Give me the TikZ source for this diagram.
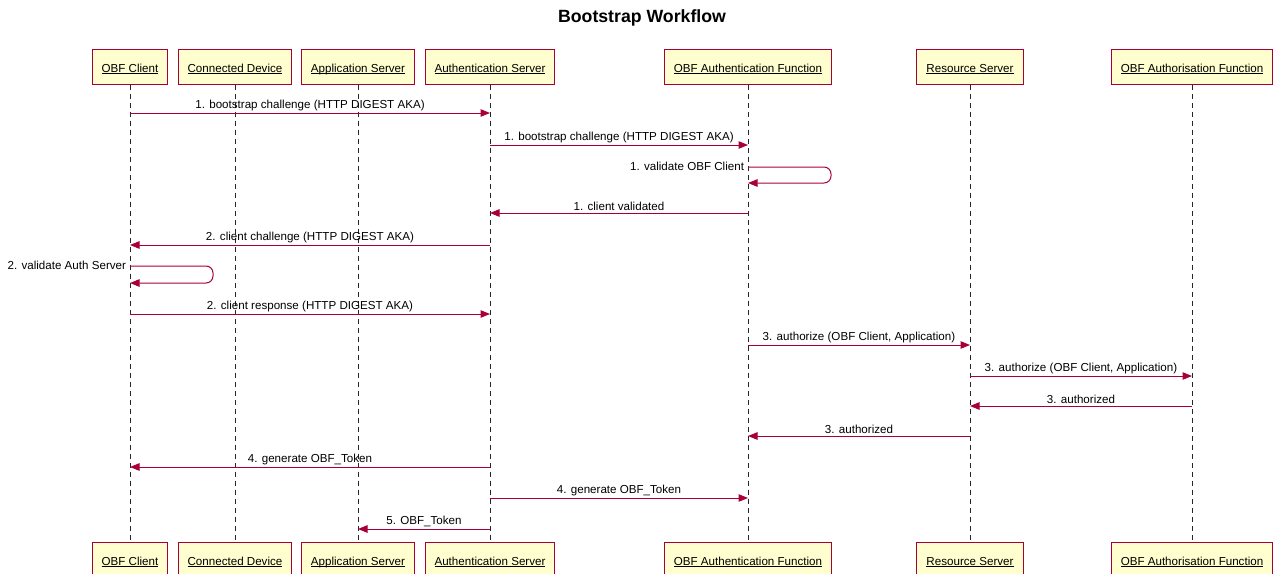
\documentclass[tikz,border=0pt]{standalone}
\usepackage{fontspec}
\setmainfont{Liberation Sans}
\usetikzlibrary{arrows.meta}
\definecolor{umlred}{HTML}{A80036}
\definecolor{umlfill}{HTML}{FEFECE}
\newcommand\ulname[1]{\underline{\smash{#1}}}
\tikzset{
  part/.style={draw=umlred,fill=umlfill,line width=1pt,rectangle,minimum height=35pt,inner xsep=9.5pt,text height=11pt,text depth=0pt,font=\fontsize{11.6}{13}\selectfont},
  life/.style={dash pattern=on 5pt off 4pt,black!85,line width=0.8pt},
  msg/.style={umlred,line width=1pt,-{Triangle[length=9.5pt,width=7.5pt]}},
  lbl/.style={black,font=\fontsize{11.6}{13}\selectfont,inner sep=1.5pt},
}

\begin{document}
\begin{tikzpicture}[x=1pt,y=-1pt]
      \useasboundingbox (0,0) rectangle (1276,573);
      \node[font=\bfseries\fontsize{17.7}{20}\selectfont] (title) at (642,18) {Bootstrap Workflow};

      % participants, top row
      \node[part] (cliT) at (130,66.5) {\ulname{OBF Client}};
      \node[part] (devT) at (235,66.5) {\ulname{Connected Device}};
      \node[part] (appT) at (358,66.5) {\ulname{Application Server}};
      \node[part] (ausT) at (490,66.5) {\ulname{Authentication Server}};
      \node[part] (afnT) at (748,66.5) {\ulname{OBF Authentication Function}};
      \node[part] (resT) at (970,66.5) {\ulname{Resource Server}};
      \node[part] (azfT) at (1192,66.5) {\ulname{OBF Authorisation Function}};

      % participants, bottom row
      \node[part] (cliB) at (130,559.5) {\ulname{OBF Client}};
      \node[part] (devB) at (235,559.5) {\ulname{Connected Device}};
      \node[part] (appB) at (358,559.5) {\ulname{Application Server}};
      \node[part] (ausB) at (490,559.5) {\ulname{Authentication Server}};
      \node[part] (afnB) at (748,559.5) {\ulname{OBF Authentication Function}};
      \node[part] (resB) at (970,559.5) {\ulname{Resource Server}};
      \node[part] (azfB) at (1192,559.5) {\ulname{OBF Authorisation Function}};

      \draw[life] (cliT) -- (cliB);
      \draw[life] (devT) -- (devB);
      \draw[life] (appT) -- (appB);
      \draw[life] (ausT) -- (ausB);
      \draw[life] (afnT) -- (afnB);
      \draw[life] (resT) -- (resB);
      \draw[life] (azfT) -- (azfB);

      % messages
      \draw[msg] (cliT |- 0,113) -- (ausT |- 0,113) node[midway,above,lbl] {1. bootstrap challenge (HTTP DIGEST AKA)};
      \draw[msg] (ausT |- 0,145) -- (afnT |- 0,145) node[midway,above,lbl] {1. bootstrap challenge (HTTP DIGEST AKA)};
      \draw[msg,rounded corners=7pt] (afnT |- 0,167) node[anchor=east,lbl,xshift=-2pt,yshift=1pt] {1. validate OBF Client}
        -- ++(83,0) -- ++(0,16) -- ++(-83,0);
      \draw[msg] (afnT |- 0,213) -- (ausT |- 0,213) node[midway,above,lbl] {1. client validated};
      \draw[msg] (ausT |- 0,245) -- (cliT |- 0,245) node[midway,above,lbl] {2. client challenge (HTTP DIGEST AKA)};
      \draw[msg,rounded corners=7pt] (cliT |- 0,266) node[anchor=east,lbl,xshift=-2pt,yshift=1pt] {2. validate Auth Server}
        -- ++(83,0) -- ++(0,17) -- ++(-83,0);
      \draw[msg] (cliT |- 0,314) -- (ausT |- 0,314) node[midway,above,lbl] {2. client response (HTTP DIGEST AKA)};
      \draw[msg] (afnT |- 0,345) -- (resT |- 0,345) node[midway,above,lbl] {3. authorize (OBF Client, Application)};
      \draw[msg] (resT |- 0,376) -- (azfT |- 0,376) node[midway,above,lbl] {3. authorize (OBF Client, Application)};
      \draw[msg] (azfT |- 0,406) -- (resT |- 0,406) node[midway,above,lbl] {3. authorized};
      \draw[msg] (resT |- 0,436) -- (afnT |- 0,436) node[midway,above,lbl] {3. authorized};
      \draw[msg] (ausT |- 0,467) -- (cliT |- 0,467) node[midway,above,lbl] {4. generate OBF\_Token};
      \draw[msg] (ausT |- 0,498) -- (afnT |- 0,498) node[midway,above,lbl] {4. generate OBF\_Token};
      \draw[msg] (ausT |- 0,529) -- (appT |- 0,529) node[midway,above,lbl] {5. OBF\_Token};
\end{tikzpicture}
\end{document}
